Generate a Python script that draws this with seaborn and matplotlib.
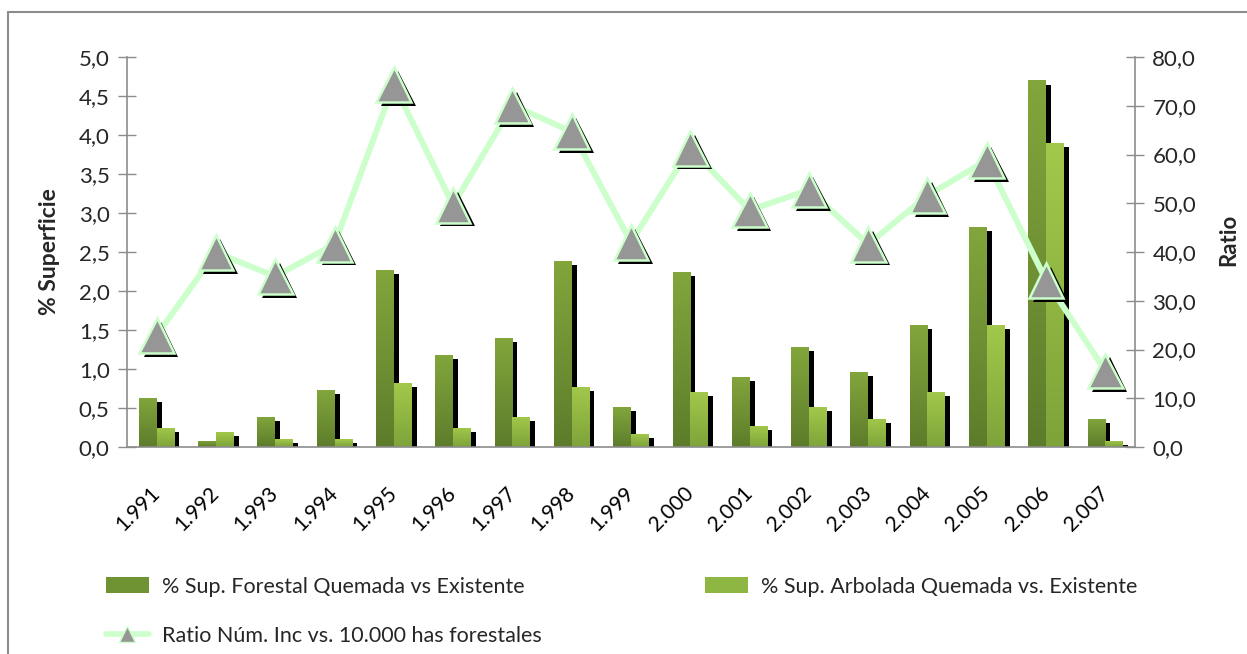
import numpy as np
import pandas as pd
import matplotlib
matplotlib.use("Agg")
import matplotlib.pyplot as plt
import matplotlib.patheffects as pe
from matplotlib.colors import LinearSegmentedColormap
from matplotlib.lines import Line2D
from matplotlib.patches import Patch
import seaborn as sns

# ---------------- data ----------------
years = ["1.991", "1.992", "1.993", "1.994", "1.995", "1.996", "1.997", "1.998", "1.999",
         "2.000", "2.001", "2.002", "2.003", "2.004", "2.005", "2.006", "2.007"]
sup_forestal = [0.63, 0.08, 0.39, 0.73, 2.27, 1.18, 1.40, 2.39, 0.51,
                2.25, 0.90, 1.28, 0.96, 1.57, 2.82, 4.70, 0.36]
sup_arbolada = [0.25, 0.19, 0.10, 0.10, 0.82, 0.25, 0.39, 0.77, 0.17,
                0.71, 0.27, 0.51, 0.36, 0.71, 1.57, 3.90, 0.08]
ratio = [22.9, 39.9, 35.0, 41.6, 74.4, 49.6, 70.1, 64.7, 42.0,
         61.3, 48.6, 52.7, 41.6, 51.6, 58.8, 34.2, 15.6]

lab_forestal = "% Sup. Forestal Quemada vs Existente"
lab_arbolada = "% Sup. Arbolada Quemada vs. Existente"
lab_ratio = "Ratio Núm. Inc vs. 10.000 has forestales"

left_ticks = [0.0, 0.5, 1.0, 1.5, 2.0, 2.5, 3.0, 3.5, 4.0, 4.5, 5.0]
right_ticks = [0, 10, 20, 30, 40, 50, 60, 70, 80]

# ---------------- style ----------------
sns.set_theme(style="white")
plt.rcParams["font.family"] = ["Lato", "DejaVu Sans"]

dark_top, dark_bot = "#82A63C", "#5D7C2B"
light_top, light_bot = "#A2C94B", "#7EA33A"
axis_gray = "#8C8C8C"

W, H = 1247, 654
fig = plt.figure(figsize=(W / 100, H / 100), dpi=100)
ax = fig.add_axes([127 / W, 1 - 447 / H, (1135 - 127) / W, (447 - 57) / H])

df = pd.DataFrame({
    "year": years * 2,
    "value": sup_forestal + sup_arbolada,
    "serie": [lab_forestal] * len(years) + [lab_arbolada] * len(years),
})
sns.barplot(data=df, x="year", y="value", hue="serie",
            palette=[dark_bot, light_bot], width=0.6, saturation=1,
            legend=False, ax=ax, err_kws={"linewidth": 0})

n = len(years)
patches = list(ax.patches)
shadow = [pe.SimplePatchShadow(offset=(3.6, -3.0), shadow_rgbFace="black", alpha=1.0), pe.Normal()]
grad = np.linspace(0, 1, 256).reshape(-1, 1)
cm_dark = LinearSegmentedColormap.from_list("d", [dark_bot, dark_top])
cm_light = LinearSegmentedColormap.from_list("l", [light_bot, light_top])
for i, p in enumerate(patches):
    p.set_edgecolor("none")
    p.set_path_effects(shadow)
    p.set_zorder(2)
    cmap = cm_dark if i < n else cm_light
    x0, y0 = p.get_xy()
    w, h = p.get_width(), p.get_height()
    im = ax.imshow(grad, extent=[x0, x0 + w, y0, y0 + h], origin="lower",
                   aspect="auto", cmap=cmap, zorder=2.1, interpolation="bilinear")
    im.set_clip_path(p)

ax.set_xlim(-0.5, n - 0.5)
ax.set_ylim(0, 5)
ax.set_yticks(left_ticks)
ax.set_yticklabels([f"{v:.1f}".replace(".", ",") for v in left_ticks])
ax.set_xticks(range(n))
ax.set_xticklabels(years, rotation=45, ha="right", rotation_mode="anchor", va="center")
ax.set_xticks(np.arange(-0.5, n, 1.0), minor=True)
ax.tick_params(axis="x", which="major", length=0, pad=31, labelsize=15, colors="black")
ax.tick_params(axis="x", which="minor", length=6, width=1, color=axis_gray, direction="out")
ax.tick_params(axis="y", which="major", length=13, width=1, color=axis_gray,
               direction="inout", labelsize=16, pad=6)
ax.set_xlabel("")
ax.set_ylabel("% Superficie", fontsize=16.5, fontweight="bold")
ax.yaxis.set_label_coords(-0.066, 0.5)
for s in ["top", "right"]:
    ax.spines[s].set_visible(False)
for s in ["left", "bottom"]:
    ax.spines[s].set_color(axis_gray)
    ax.spines[s].set_linewidth(1.2)
ax.grid(False)

# ---------------- line on secondary axis ----------------
ax2 = ax.twinx()
xs = np.arange(n)
sns.lineplot(x=xs, y=ratio, ax=ax2, color="#CCFFCC", linewidth=4.3, zorder=3)
ax2.plot(xs, ratio, linestyle="none", marker="^", markersize=25,
         markerfacecolor="#969696", markeredgecolor="#CCFFCC", markeredgewidth=1.8,
         zorder=4,
         path_effects=[pe.SimplePatchShadow(offset=(3.2, -2.8), shadow_rgbFace="black", alpha=1.0),
                       pe.Normal()])
ax2.set_ylim(0, 80)
ax2.set_yticks(right_ticks)
ax2.set_yticklabels([f"{v:.1f}".replace(".", ",") for v in right_ticks])
ax2.tick_params(axis="y", which="major", length=13, width=1, color=axis_gray,
                direction="inout", labelsize=16, pad=6)
ax2.set_ylabel("Ratio", fontsize=16, fontweight="bold", rotation=90)
ax2.yaxis.set_label_coords(1.083, 0.53)
for s in ["top", "left", "bottom"]:
    ax2.spines[s].set_visible(False)
ax2.spines["right"].set_color(axis_gray)
ax2.spines["right"].set_linewidth(1.2)
ax2.grid(False)
ax2.set_xlim(-0.5, n - 0.5)

# ---------------- legend ----------------
h_for = Patch(facecolor="#6F9233", edgecolor="none")
h_arb = Patch(facecolor="#8DB742", edgecolor="none")
h_rat = Line2D([0], [0], color="#CCFFCC", linewidth=4, marker="^", markersize=11,
               markerfacecolor="#969696", markeredgecolor="#CCFFCC")
fig.legend(handles=[h_for, h_rat, h_arb], labels=[lab_forestal, lab_ratio, lab_arbolada],
           ncol=2, loc="upper left", bbox_to_anchor=(97 / W, 1 - 568 / H),
           frameon=False, fontsize=15.5, handlelength=2.0, handleheight=0.75,
           handletextpad=0.6, columnspacing=7.6, labelspacing=1.35, borderaxespad=0)

# ---------------- chart border ----------------
fig.add_artist(Line2D([8 / W, 8 / W], [0, 1 - 12 / H], transform=fig.transFigure,
                      color=axis_gray, linewidth=1.5))
fig.add_artist(Line2D([8 / W, 1], [1 - 12 / H, 1 - 12 / H], transform=fig.transFigure,
                      color=axis_gray, linewidth=1.5))

fig.savefig("out.png", dpi=100)
